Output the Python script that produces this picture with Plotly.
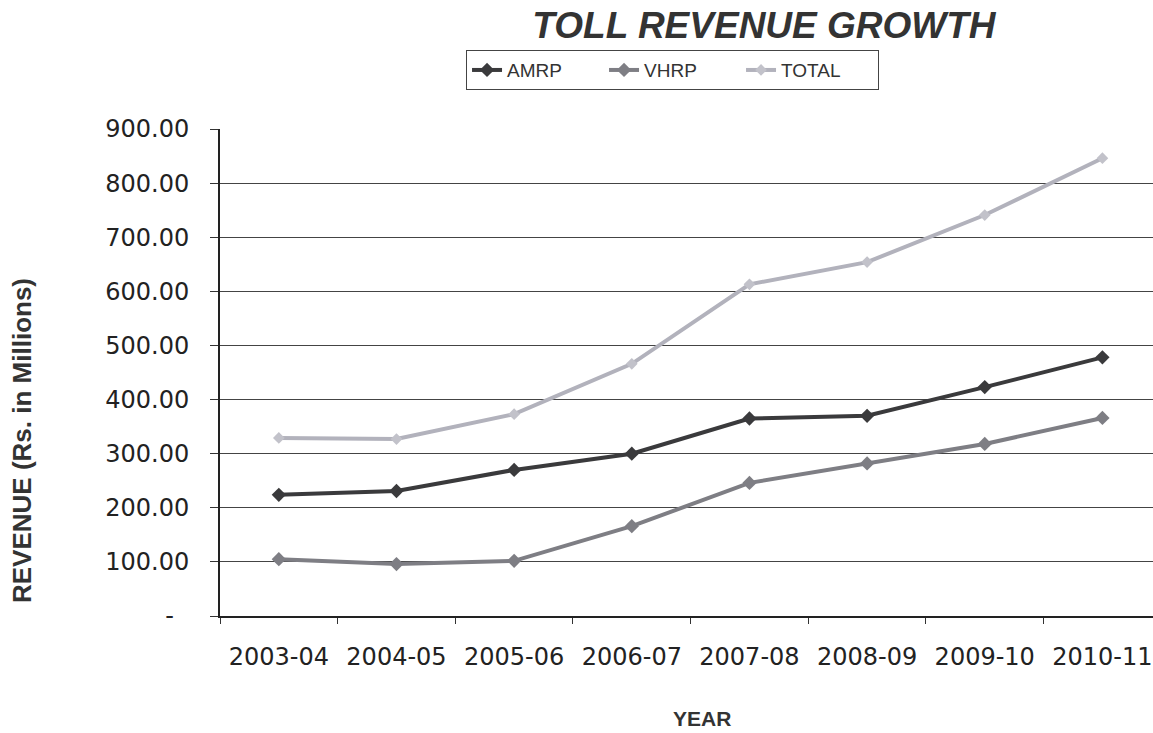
import plotly.graph_objects as go

years = ["2003-04", "2004-05", "2005-06", "2006-07", "2007-08", "2008-09", "2009-10", "2010-11"]
amrp = [224, 231, 270, 300, 365, 370, 423, 478]
vhrp = [105, 96, 102, 166, 246, 282, 318, 366]
total = [329, 327, 373, 466, 613, 654, 741, 846]
ytick_vals = [0, 100, 200, 300, 400, 500, 600, 700, 800, 900]
ytick_text = ["-\u00a0\u00a0", "100.00", "200.00", "300.00", "400.00", "500.00",
              "600.00", "700.00", "800.00", "900.00"]

FONT = "Liberation Sans, Arial, sans-serif"
TICKFONT = "DejaVu Sans, sans-serif"

fig = go.Figure()
fig.add_trace(go.Scatter(x=years, y=amrp, name="AMRP", mode="lines+markers",
                         line=dict(color="#3a3a3c", width=4),
                         marker=dict(symbol="diamond", size=11, color="#3a3a3c")))
fig.add_trace(go.Scatter(x=years, y=vhrp, name="VHRP", mode="lines+markers",
                         line=dict(color="#7e7e84", width=4),
                         marker=dict(symbol="diamond", size=11, color="#7e7e84")))
fig.add_trace(go.Scatter(x=years, y=total, name="TOTAL", mode="lines+markers",
                         line=dict(color="#b2b2bc", width=4),
                         marker=dict(symbol="diamond", size=9, color="#c2c2ca")))

fig.update_layout(
    width=1153, height=733,
    margin=dict(l=220, r=0, t=129, b=117),
    paper_bgcolor="white", plot_bgcolor="white",
    font=dict(family=FONT, color="#222"),
    title=dict(text="<b><i>TOLL REVENUE GROWTH</i></b>", x=0.6626, xanchor="center",
               y=0.966, yanchor="middle", font=dict(size=37, color="#333")),
    legend=dict(orientation="h", x=0.2637, xanchor="left", y=1.162, yanchor="top",
                bordercolor="#444", borderwidth=1, bgcolor="white",
                font=dict(size=19, color="#333"), itemwidth=30,
                entrywidth=92, entrywidthmode="pixels"),
    showlegend=True,
    annotations=[
        dict(text="<b>REVENUE (Rs. in Millions)</b>", textangle=-90,
             xref="paper", yref="paper", x=(22 - 220) / 933, y=(616 - 441) / 487,
             xanchor="center", yanchor="middle", showarrow=False,
             font=dict(size=26, color="#333", family=FONT)),
        dict(text="<b>YEAR</b>",
             xref="paper", yref="paper", x=(702 - 220) / 933, y=(616 - 718) / 487,
             xanchor="center", yanchor="middle", showarrow=False,
             font=dict(size=21, color="#333", family=FONT)),
    ],
)
fig.update_xaxes(
    type="category", range=[-0.5, 7.43], tickson="boundaries",
    ticks="outside", ticklen=6, tickcolor="#333",
    showgrid=False, showline=True, linecolor="#222", linewidth=2,
    tickfont=dict(size=24, color="#222", family=TICKFONT),
    ticklabelstandoff=18,
)
fig.update_yaxes(
    range=[0, 900], tickmode="array", tickvals=ytick_vals, ticktext=ytick_text,
    ticks="outside", ticklen=8, tickcolor="#333",
    showgrid=True, gridcolor="#444", gridwidth=1.3,
    showline=True, linecolor="#222", linewidth=2, zeroline=False,
    tickfont=dict(size=24, color="#222", family=TICKFONT),
    ticklabelstandoff=16,
)

fig.write_html("out.html")
